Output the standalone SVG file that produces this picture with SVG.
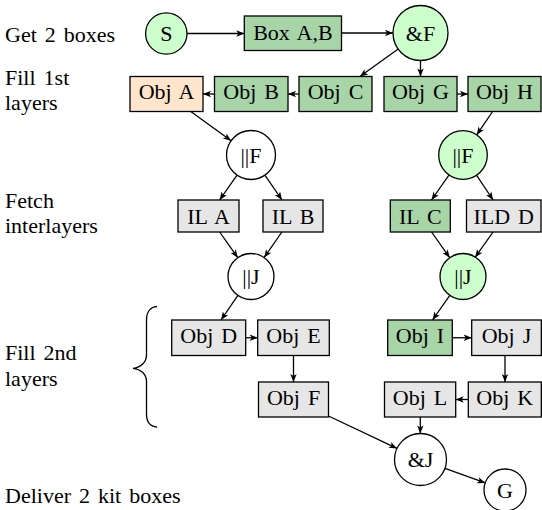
<svg xmlns="http://www.w3.org/2000/svg" width="542" height="510" viewBox="0 0 542 510">
<defs>
<marker id="ah" viewBox="-9 -4 10 8" markerWidth="10" markerHeight="8" refX="0" refY="0" orient="auto" markerUnits="userSpaceOnUse">
<path d="M0,0 L-8,-3.2 L-6,0 L-8,3.2 Z" fill="#000"/>
</marker>
<style>
text{font-family:"Liberation Serif","Times New Roman",serif;font-size:22px;fill:#000;word-spacing:2.5px}
.c{text-anchor:middle}
.n rect,.n circle{stroke:#000;stroke-width:1.3}
.lg{fill:#ccffcc}
.dg{fill:#a8d5a8}
.gr{fill:#e6e6e6}
.pe{fill:#ffe5cc}
.wh{fill:#fff}
.e line{stroke:#000;stroke-width:1.3;marker-end:url(#ah)}
</style>
</defs>
<rect width="542" height="510" fill="#fff"/>
<g id="labels">
<text x="5" y="41.5">Get 2 boxes</text>
<text x="5" y="85">Fill 1st</text>
<text x="5" y="110">layers</text>
<text x="5" y="208">Fetch</text>
<text x="5" y="233">interlayers</text>
<text x="5" y="360">Fill 2nd</text>
<text x="5" y="386">layers</text>
<text x="5" y="502.5">Deliver 2 kit boxes</text>
<path d="M157,306.5 C150.5,307 146.5,312 146.5,320 L146.5,355 C146.5,362 141,367.5 133,368.3 C141,369 146.5,374.5 146.5,381.5 L146.5,414 C146.5,422 150.5,426.5 157,427" fill="none" stroke="#000" stroke-width="1.3"/>
</g>
<g id="S" class="n"><circle class="lg" cx="166.3" cy="33.5" r="20.7"/><text class="c" x="166.3" y="41">S</text></g>
<g id="BoxAB" class="n"><rect class="dg" x="244.3" y="16" width="97.2" height="34.5"/><text class="c" x="292.9" y="39.5">Box A,B</text></g>
<g id="AndF" class="n"><circle class="lg" cx="420.5" cy="33" r="27.5"/><text class="c" x="420.5" y="40.5">&amp;F</text></g>
<g id="ObjA" class="n"><rect class="pe" x="130" y="76.5" width="73" height="35"/><text class="c" x="166.5" y="99">Obj A</text></g>
<g id="ObjB" class="n"><rect class="dg" x="214.5" y="76.5" width="73.5" height="35"/><text class="c" x="251.2" y="99">Obj B</text></g>
<g id="ObjC" class="n"><rect class="dg" x="299" y="76.5" width="73" height="35"/><text class="c" x="335.5" y="99">Obj C</text></g>
<g id="ObjG" class="n"><rect class="dg" x="384" y="76.5" width="73" height="35"/><text class="c" x="420.5" y="99">Obj G</text></g>
<g id="ObjH" class="n"><rect class="dg" x="468" y="76.5" width="73" height="35"/><text class="c" x="504.5" y="99">Obj H</text></g>
<g id="ParF1" class="n"><circle class="wh" cx="251" cy="155" r="24.5"/><text class="c" x="251" y="163">||F</text></g>
<g id="ParF2" class="n"><circle class="lg" cx="463" cy="155" r="24.3"/><text class="c" x="463" y="163">||F</text></g>
<g id="ILA" class="n"><rect class="gr" x="178" y="200" width="61" height="32"/><text class="c" x="208.5" y="223.5">IL A</text></g>
<g id="ILB" class="n"><rect class="gr" x="263" y="200" width="60" height="32"/><text class="c" x="293" y="223.5">IL B</text></g>
<g id="ILC" class="n"><rect class="dg" x="390.3" y="200" width="60" height="32"/><text class="c" x="420.3" y="223.5">IL C</text></g>
<g id="ILDD" class="n"><rect class="gr" x="466.5" y="200" width="74.5" height="32"/><text class="c" x="503.75" y="223.5">ILD D</text></g>
<g id="ParJ1" class="n"><circle class="wh" cx="251" cy="276.5" r="23"/><text class="c" x="251" y="284">||J</text></g>
<g id="ParJ2" class="n"><circle class="lg" cx="463" cy="276.5" r="23"/><text class="c" x="463" y="284">||J</text></g>
<g id="ObjD" class="n"><rect class="gr" x="171.7" y="320" width="74" height="35.5"/><text class="c" x="208.7" y="343">Obj D</text></g>
<g id="ObjE" class="n"><rect class="gr" x="257.7" y="320" width="71.6" height="35.5"/><text class="c" x="293.5" y="343">Obj E</text></g>
<g id="ObjI" class="n"><rect class="dg" x="387.7" y="320" width="64.6" height="35.5"/><text class="c" x="420" y="343">Obj I</text></g>
<g id="ObjJ" class="n"><rect class="gr" x="471.7" y="320" width="69.6" height="35.5"/><text class="c" x="506.5" y="343">Obj J</text></g>
<g id="ObjF" class="n"><rect class="gr" x="258.5" y="382" width="70" height="35"/><text class="c" x="293.5" y="404.5">Obj F</text></g>
<g id="ObjL" class="n"><rect class="gr" x="384.5" y="382" width="71.2" height="35"/><text class="c" x="420.1" y="404.5">Obj L</text></g>
<g id="ObjK" class="n"><rect class="gr" x="468.3" y="382" width="73" height="35"/><text class="c" x="504.8" y="404.5">Obj K</text></g>
<g id="AndJ" class="n"><circle class="wh" cx="420.5" cy="459.5" r="26"/><text class="c" x="420.5" y="467">&amp;J</text></g>
<g id="G" class="n"><circle class="wh" cx="505" cy="490" r="21"/><text class="c" x="505" y="497.5">G</text></g>
<g id="edges" class="e">
<line x1="187" y1="33.5" x2="244.3" y2="33.5"/>
<line x1="341.5" y1="33" x2="393" y2="33"/>
<line x1="398.2" y1="49" x2="359.9" y2="76.5"/>
<line x1="420.5" y1="60.5" x2="420.5" y2="76.5"/>
<line x1="457" y1="94" x2="468" y2="94"/>
<line x1="299" y1="94" x2="288" y2="94"/>
<line x1="214.5" y1="94" x2="203" y2="94"/>
<line x1="190.8" y1="111.5" x2="231.1" y2="140.7"/>
<line x1="492.6" y1="111.5" x2="476.7" y2="134.9"/>
<line x1="237" y1="175.1" x2="219.6" y2="200"/>
<line x1="264.9" y1="175.2" x2="282" y2="200"/>
<line x1="219.7" y1="232" x2="237.8" y2="257.7"/>
<line x1="281.9" y1="232" x2="264.1" y2="257.6"/>
<line x1="449.1" y1="174.9" x2="431.5" y2="200"/>
<line x1="476.5" y1="175.2" x2="493.1" y2="200"/>
<line x1="431.6" y1="232" x2="449.7" y2="257.7"/>
<line x1="493" y1="232" x2="475.1" y2="257.4"/>
<line x1="237.9" y1="295.4" x2="221" y2="320"/>
<line x1="245.7" y1="337.75" x2="257.7" y2="337.75"/>
<line x1="293.5" y1="355.5" x2="293.5" y2="382"/>
<line x1="328.5" y1="416" x2="397" y2="448.4"/>
<line x1="449.8" y1="295.3" x2="432.5" y2="320"/>
<line x1="452.3" y1="337.75" x2="471.7" y2="337.75"/>
<line x1="505" y1="355.5" x2="505" y2="382"/>
<line x1="468.3" y1="399.5" x2="455.7" y2="399.5"/>
<line x1="420.3" y1="417" x2="420.3" y2="433.5"/>
<line x1="445" y1="468.3" x2="485.3" y2="482.9"/>
</g>
</svg>
